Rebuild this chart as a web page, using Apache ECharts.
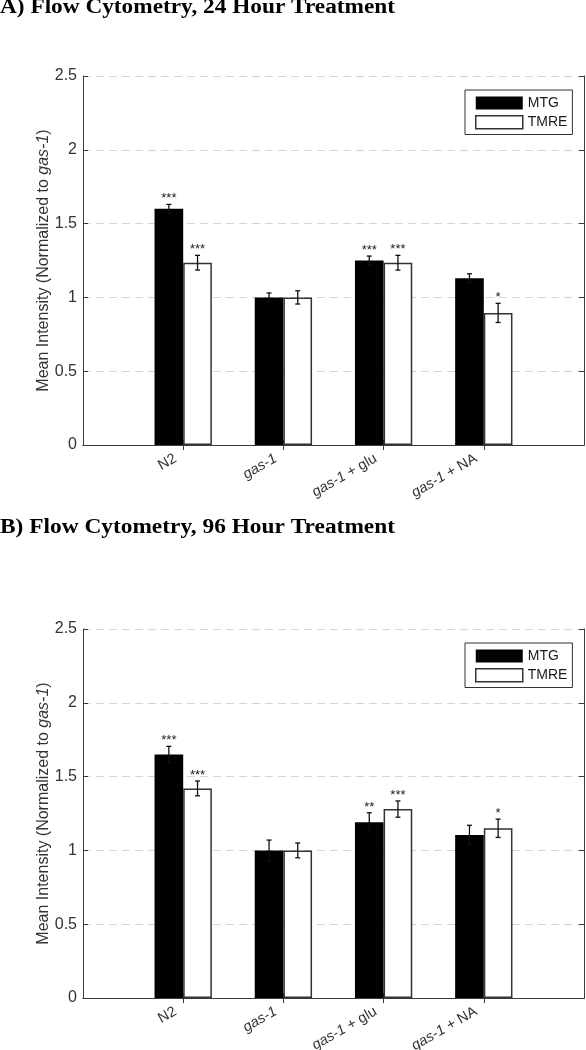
<!DOCTYPE html>
<html><head><meta charset="utf-8">
<script src="https://cdn.jsdelivr.net/npm/echarts@6/dist/echarts.min.js"></script>
<style>html,body{margin:0;padding:0;background:#fff}#c{width:586px;height:1050px}</style>
</head><body><div id="c"></div>
<script>
// ---------- data ----------
const categories = ['N2', 'gas-1', 'gas-1 + glu', 'gas-1 + NA'];
const seriesNames = ['MTG', 'TMRE'];
const yTicks = [0, 0.5, 1, 1.5, 2, 2.5];
const titleA = 'A) Flow Cytometry, 24 Hour Treatment';
const titleB = 'B) Flow Cytometry, 96 Hour Treatment';
const yName = 'Mean Intensity (Normalized to {i|gas-1})';

const mtgA = [1.60, 1.00, 1.25, 1.13];
const mtgAErr = [0.03, 0.03, 0.03, 0.03];
const tmreA = [1.235, 1.00, 1.235, 0.895];
const tmreAErr = [0.05, 0.045, 0.05, 0.065];
const mtgASig = ['***', '', '***', ''];
const tmreASig = ['***', '', '***', '*'];

const mtgB = [1.65, 1.00, 1.19, 1.105];
const mtgBErr = [0.055, 0.07, 0.065, 0.065];
const tmreB = [1.42, 1.00, 1.28, 1.15];
const tmreBErr = [0.05, 0.05, 0.055, 0.062];
const mtgBSig = ['***', '', '**', ''];
const tmreBSig = ['***', '', '***', '*'];

// ---------- layout / style ----------
const SANS = '"Liberation Sans", Arial, sans-serif';
const SERIF = '"Liberation Serif", "Times New Roman", serif';
const BAR_FRAC = 0.286;
const AXIS_COLOR = '#3a3a3a';
const LABEL_COLOR = '#333';
const axisCats = [''].concat(categories, ['']);
const pad = arr => ['-'].concat(arr, ['-']);

const chart = echarts.init(document.getElementById('c'), null, {renderer: 'canvas'});

function catFormatter(v) {
  if (!v) return '';
  let s;
  if (v.indexOf('gas-1') === 0) {
    const rest = v.slice(5);
    s = '{i|gas-1}' + (rest ? '{n|' + rest + '}' : '');
  } else {
    s = '{n|' + v + '}';
  }
  return s + '{p|}';
}

function xAxes(gi) {
  const tickInterval = (idx) => idx > 0 && idx < axisCats.length - 1;
  return [
    {
      gridIndex: gi, type: 'category', data: axisCats, boundaryGap: false, position: 'bottom',
      axisLine: {show: true, lineStyle: {color: AXIS_COLOR, width: 1}},
      axisTick: {show: true, inside: true, length: 5, interval: tickInterval, lineStyle: {color: AXIS_COLOR}},
      axisLabel: {
        show: true, interval: 0, rotate: 30, margin: 8, formatter: catFormatter,
        rich: {
          i: {fontStyle: 'italic', fontSize: 14.5, fontFamily: SANS, color: LABEL_COLOR},
          n: {fontSize: 14.5, fontFamily: SANS, color: LABEL_COLOR},
          p: {width: 9, fontSize: 14.5}
        }
      },
      splitLine: {show: false}
    },
    {
      gridIndex: gi, type: 'category', data: axisCats, boundaryGap: false, position: 'top',
      axisLine: {show: true, lineStyle: {color: AXIS_COLOR, width: 1}},
      axisTick: {show: true, inside: true, length: 5, interval: tickInterval, lineStyle: {color: AXIS_COLOR}},
      axisLabel: {show: false}, splitLine: {show: false}
    }
  ];
}

function yAxes(gi) {
  const base = {
    gridIndex: gi, type: 'value', min: yTicks[0], max: yTicks[yTicks.length - 1],
    interval: yTicks[1] - yTicks[0],
    axisLine: {show: true, lineStyle: {color: AXIS_COLOR, width: 1}},
    axisTick: {show: true, inside: true, length: 5, lineStyle: {color: AXIS_COLOR}}
  };
  return [
    Object.assign({}, base, {
      position: 'left',
      axisLabel: {show: true, fontSize: 16, fontFamily: SANS, color: LABEL_COLOR, margin: 6},
      splitLine: {show: true, lineStyle: {color: '#d6d6d6', type: [8, 5], width: 1}},
      name: yName, nameLocation: 'middle', nameGap: 31, nameRotate: 90, nameMoveOverlap: false,
      nameTextStyle: {
        fontSize: 16, fontFamily: SANS, color: LABEL_COLOR,
        rich: {i: {fontStyle: 'italic', fontSize: 16, fontFamily: SANS, color: LABEL_COLOR}}
      }
    }),
    Object.assign({}, base, {
      position: 'right', axisLabel: {show: false}, splitLine: {show: false}
    })
  ];
}

function barSeries(name, vals, xi, yi, isWhite) {
  return {
    type: 'bar', name: name, xAxisIndex: xi, yAxisIndex: yi,
    data: pad(vals), barWidth: (BAR_FRAC * 100) + '%', barGap: '0%',
    itemStyle: isWhite ? {color: '#fff', borderColor: '#333', borderWidth: 1.5}
                       : {color: '#000', borderColor: '#000', borderWidth: 0},
    z: 2, silent: true
  };
}

function errSeries(vals, errs, sigs, side, xi, yi) {
  const data = vals.map((v, i) => [i + 1, v, errs[i]]);
  return {
    type: 'custom', xAxisIndex: xi, yAxisIndex: yi, z: 5, silent: true,
    data: data,
    renderItem: function (params, api) {
      const ci = api.value(0), v = api.value(1), e = api.value(2);
      const band = api.size([1, 0])[0];
      const half = band * BAR_FRAC / 2;
      const x = api.coord([ci, v])[0] + side * half;
      const yTop = api.coord([ci, v + e])[1];
      const yBot = api.coord([ci, v - e])[1];
      const cap = 2.5;
      const ls = {stroke: '#111', lineWidth: 1.3};
      const children = [
        {type: 'line', shape: {x1: x, y1: yTop, x2: x, y2: yBot}, style: ls},
        {type: 'line', shape: {x1: x - cap, y1: yTop, x2: x + cap, y2: yTop}, style: ls},
        {type: 'line', shape: {x1: x - cap, y1: yBot, x2: x + cap, y2: yBot}, style: ls}
      ];
      const s = sigs[params.dataIndex];
      if (s) {
        children.push({
          type: 'text',
          style: {text: s, x: x, y: yTop + 1, align: 'center', verticalAlign: 'bottom',
                  fontSize: 13, fontFamily: SANS, fill: '#222'}
        });
      }
      return {type: 'group', children: children};
    }
  };
}

function legendAt(top) {
  return {
    left: 465, top: top, orient: 'vertical', icon: 'rect',
    itemWidth: 47, itemHeight: 13, itemGap: 5,
    padding: [6, 5, 5, 10], borderColor: '#333', borderWidth: 1, backgroundColor: '#fff',
    selectedMode: false,
    textStyle: {fontSize: 14, fontFamily: SANS, color: '#1a1a1a'},
    data: [
      {name: seriesNames[0], itemStyle: {color: '#000', borderWidth: 0}},
      {name: seriesNames[1], itemStyle: {color: '#fff', borderColor: '#333', borderWidth: 1.5}}
    ]
  };
}

// title scaling to match wide rendering in reference
function textWidth(t, font) {
  const c = document.createElement('canvas').getContext('2d');
  c.font = font; return c.measureText(t).width;
}
const TITLE_FS = 20;
const TITLE_TARGET_W = 395;
const tFont = 'bold ' + TITLE_FS + 'px ' + SERIF;
function titleGraphic(text, yMid) {
  const w = textWidth(text, tFont) || 1;
  return {
    type: 'text', x: 0, y: yMid, scaleX: TITLE_TARGET_W / w, scaleY: 1, originX: 0, originY: 0,
    style: {text: text, font: tFont, fill: '#000', align: 'left', verticalAlign: 'middle'}
  };
}

const option = {
  animation: false,
  backgroundColor: '#fff',
  grid: [
    {left: 83, top: 76, width: 501, height: 369, show: false, containLabel: false, outerBoundsMode: 'none'},
    {left: 83, top: 629, width: 501, height: 369, show: false, containLabel: false, outerBoundsMode: 'none'}
  ],
  xAxis: xAxes(0).concat(xAxes(1)),
  yAxis: yAxes(0).concat(yAxes(1)),
  legend: [legendAt(90), legendAt(643)],
  graphic: [titleGraphic(titleA, 8), titleGraphic(titleB, 528)],
  series: [
    barSeries(seriesNames[0], mtgA, 0, 0, false),
    barSeries(seriesNames[1], tmreA, 0, 0, true),
    errSeries(mtgA, mtgAErr, mtgASig, -1, 0, 0),
    errSeries(tmreA, tmreAErr, tmreASig, 1, 0, 0),
    barSeries(seriesNames[0], mtgB, 2, 2, false),
    barSeries(seriesNames[1], tmreB, 2, 2, true),
    errSeries(mtgB, mtgBErr, mtgBSig, -1, 2, 2),
    errSeries(tmreB, tmreBErr, tmreBSig, 1, 2, 2)
  ]
};
chart.setOption(option);
</script></body></html>
